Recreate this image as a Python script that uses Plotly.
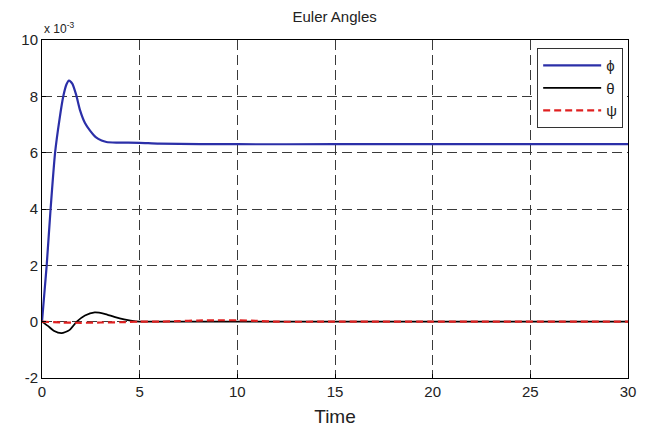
import plotly.graph_objects as go

# values in units of 1e-3
phi_t = [0, 0.12, 0.24, 0.44, 0.67, 0.9, 1.09, 1.25, 1.38, 1.55, 1.75, 1.95, 2.2, 2.46, 2.75, 3.05, 3.3, 3.8, 5, 6, 10, 15, 20, 25, 30]
phi_v = [0, 1.0, 2.0, 4.0, 6.0, 7.2, 8.0, 8.42, 8.56, 8.45, 8.05, 7.5, 7.05, 6.78, 6.55, 6.43, 6.38, 6.36, 6.35, 6.32, 6.3, 6.3, 6.3, 6.3, 6.3]

theta_t = [0, 0.3, 0.6, 1.0, 1.4, 1.78, 2.2, 2.7, 3.2, 3.7, 4.2, 4.8, 5.5, 10, 20, 30]
theta_v = [0, -0.15, -0.32, -0.41, -0.3, 0, 0.22, 0.33, 0.28, 0.17, 0.08, 0.01, 0, 0, 0, 0]

psi_t = [0, 1, 2, 3, 4, 5, 6, 7, 8, 9, 10, 11, 12, 15, 20, 30]
psi_v = [0, -0.03, -0.04, -0.03, -0.02, 0, 0, 0.02, 0.04, 0.05, 0.05, 0.03, 0, 0, 0, 0]

x_ticks = [0, 5, 10, 15, 20, 25, 30]
y_ticks = [-2, 0, 2, 4, 6, 8, 10]
y_labels = ["-2", "0", "2", "4", "6", "8", "10"]

FONT = "Liberation Sans, Arial"

fig = go.Figure()
fig.add_trace(go.Scatter(x=phi_t, y=phi_v, mode="lines", name="ϕ",
                         line=dict(color="#2b2fa8", width=2.2, shape="spline", smoothing=0.6)))
fig.add_trace(go.Scatter(x=theta_t, y=theta_v, mode="lines", name="θ",
                         line=dict(color="black", width=1.8, shape="spline", smoothing=0.6)))
fig.add_trace(go.Scatter(x=psi_t, y=psi_v, mode="lines", name="ψ",
                         line=dict(color="#e02020", width=2.2, dash="7px,4px", shape="spline", smoothing=0.6)))

axis_common = dict(showline=True, mirror=True, linecolor="black", linewidth=1,
                   showgrid=True, gridcolor="#3a3a3a", griddash="10px,5px", gridwidth=1,
                   zeroline=False, ticks="inside", ticklen=4, tickcolor="black",
                   automargin=False,
                   tickfont=dict(family=FONT, size=15, color="#222"))

fig.update_layout(
    width=646, height=432,
    margin=dict(l=42, r=18, t=40, b=54),
    paper_bgcolor="white", plot_bgcolor="white",
    title=dict(text="Euler Angles", x=0.518, xanchor="center", y=0.962, yanchor="middle",
               font=dict(family=FONT, size=15, color="#222")),
    xaxis=dict(range=[0, 30], tickvals=x_ticks,
               title=dict(text="Time", font=dict(family=FONT, size=19, color="#222"), standoff=10),
               **axis_common),
    yaxis=dict(range=[-2, 10], tickvals=y_ticks, ticktext=y_labels, **axis_common),
    legend=dict(x=0.845, y=0.976, xanchor="left", yanchor="top",
                bordercolor="#333", borderwidth=1, bgcolor="white",
                itemwidth=58,
                font=dict(family=FONT, size=15, color="#222"),
                tracegroupgap=0),
    showlegend=True,
    annotations=[dict(text="x 10<sup>-3</sup>", xref="paper", yref="paper", x=0, y=1.0,
                      xanchor="left", yanchor="bottom", showarrow=False, yshift=2,
                      font=dict(family=FONT, size=12, color="#222"))],
)

fig.write_html("out.html")
